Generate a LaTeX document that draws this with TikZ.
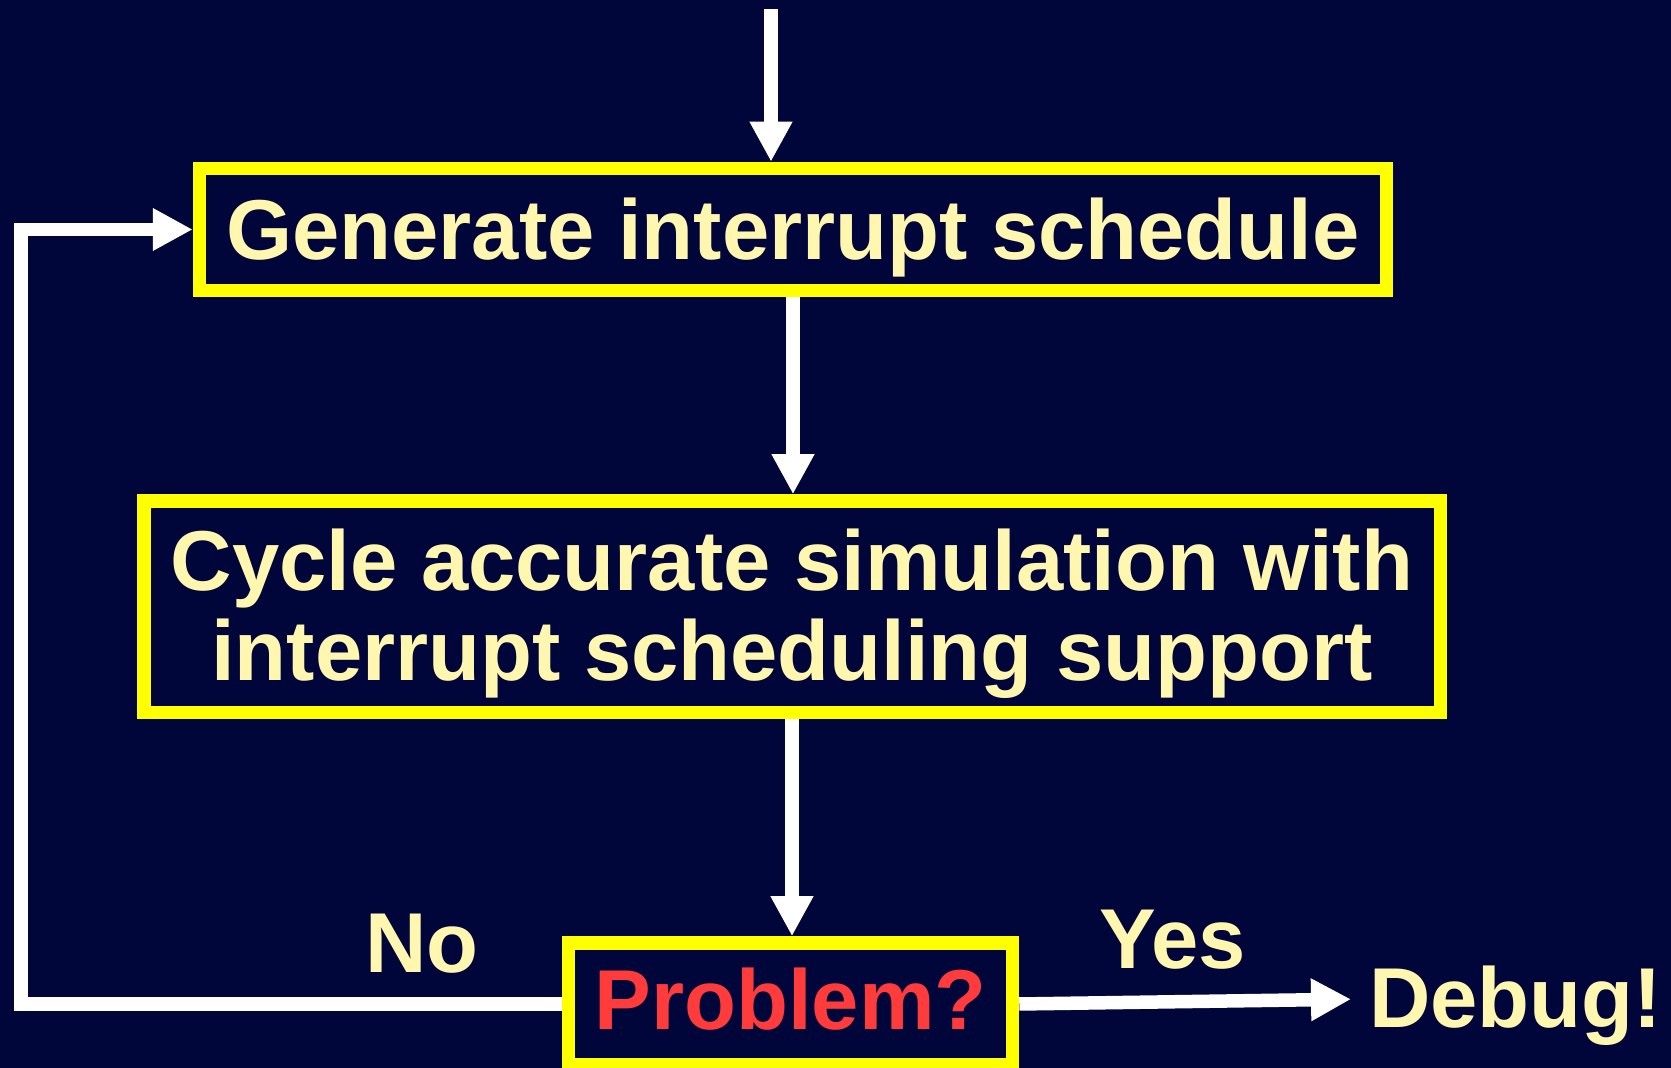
\documentclass[tikz,border=0pt]{standalone}
\usepackage{fontspec}
\setmainfont{Liberation Sans}
\usetikzlibrary{arrows.meta,positioning}
\definecolor{slidebg}{RGB}{0,6,58}
\definecolor{cream}{RGB}{255,246,176}
\definecolor{alarm}{RGB}{255,59,59}
\definecolor{frame}{RGB}{255,255,0}
\tikzstyle{process} = [rectangle, draw=frame, line width=13.5pt, inner sep=0pt,
text=cream, align=center, font=\fontsize{85}{90}\selectfont\bfseries]
\tikzstyle{arrow} = [draw=white, line width=13.5pt, line join=miter,
-{Triangle[length=40pt,width=40pt]}]
\tikzstyle{answer} = [text=cream, inner sep=0pt, font=\fontsize{85}{90}\selectfont\bfseries]

\begin{document}
\begin{tikzpicture}[x=1pt, y=1pt]
  \fill[slidebg] (0,0) rectangle (1671,1068);
  \useasboundingbox (0,0) rectangle (1671,1068);

  \node (generate) [process, minimum width=1187pt, minimum height=122pt,
    text height=61pt, text depth=0pt] at (793,838.5) {Generate interrupt schedule};
  \node (simulate) [process, below=197pt of generate, xshift=-1pt,
    minimum width=1296.5pt, minimum height=211.5pt, text height=151pt,
    text depth=4pt] {Cycle accurate simulation with\\interrupt scheduling support};
  \node (problem) [process, below=217pt of simulate, xshift=-1.5pt,
    minimum width=444pt, minimum height=122pt, text=alarm, text height=61pt,
    text depth=10pt] {Problem?};
  \node (debug) [answer, anchor=base west] at (1369,40) {Debug!};

  \coordinate (entry) at (771,1059);
  \coordinate (loop) at (21,0);

  \draw[arrow] (entry) -- (entry |- generate.north);
  \draw[arrow] (generate.south) -- (generate.south |- simulate.north);
  \draw[arrow] (simulate.south) -- (simulate.south |- problem.north);
  \draw[arrow] (problem.west) -- node[answer, above=24pt, pos=0.258]{No}
    (problem.west -| loop) |- (generate.west);
  \draw[arrow] (problem.east) -- node[answer, above=26pt, pos=0.462]{Yes}
    ([xshift=-18pt, yshift=7pt]debug.west);
\end{tikzpicture}
\end{document}
